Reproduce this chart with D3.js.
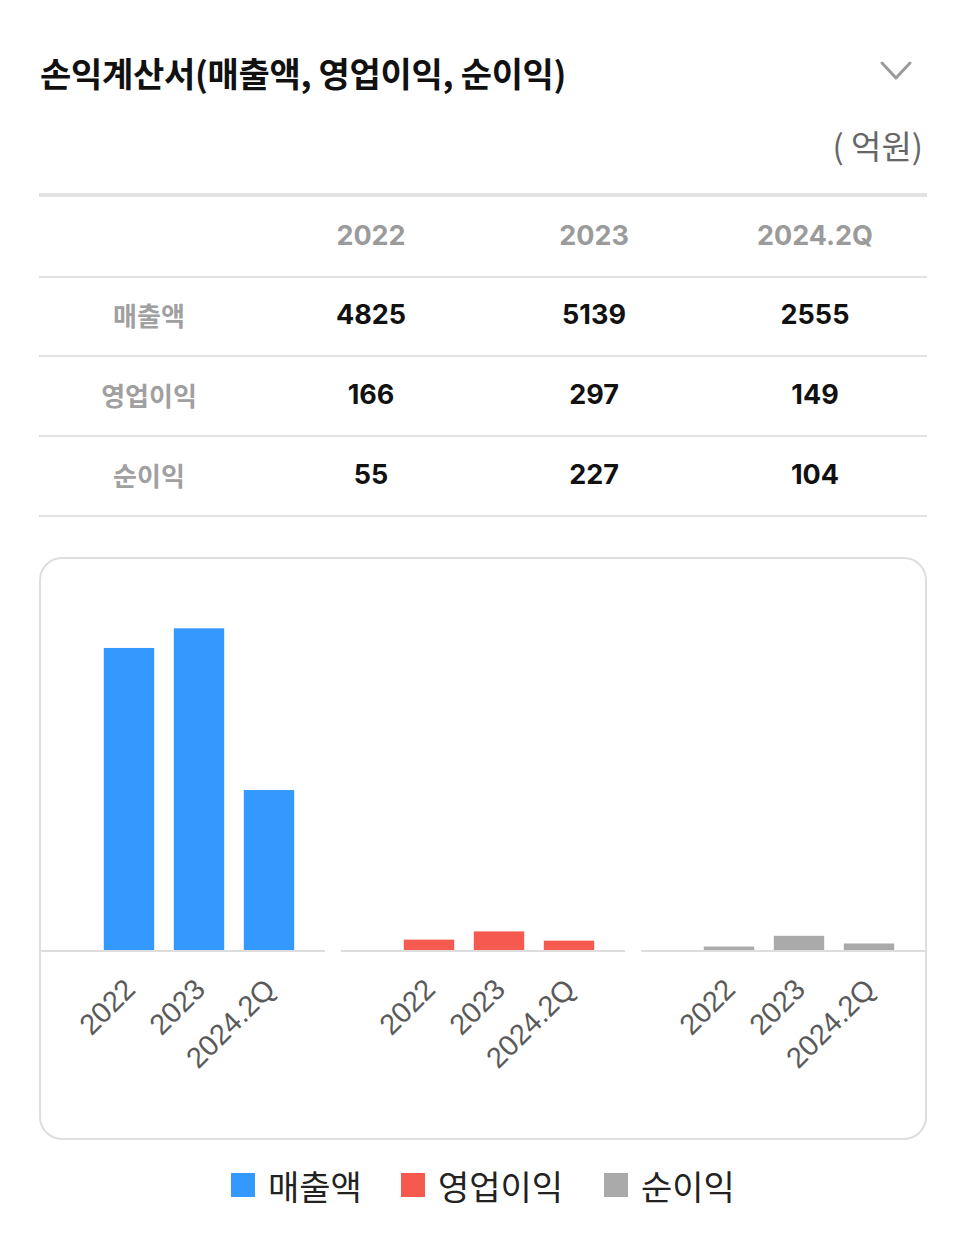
<!DOCTYPE html>
<html>
<head>
<meta charset="utf-8">
<script src="https://cdn.jsdelivr.net/npm/d3@7"></script>
<style>
  html, body { margin: 0; padding: 0; background: #fff; }
  svg { display: block; }
</style>
</head>
<body>
<svg id="chart" width="966" height="1233"></svg>
<script>
// ---- data ----
const title = "손익계산서(매출액, 영업이익, 순이익)";
const unitLabel = "( 억원)";
const categories = ["2022", "2023", "2024.2Q"];
const seriesNames = ["매출액", "영업이익", "순이익"];
const revenue = [4825, 5139, 2555];
const operatingIncome = [166, 297, 149];
const netIncome = [55, 227, 104];
const seriesColors = ["#3399ff", "#f65a4f", "#aaaaaa"];
const allSeries = [revenue, operatingIncome, netIncome];

const KR = "'Noto Sans CJK KR', 'Noto Sans', sans-serif";
const NUM = "Inter, 'Noto Sans CJK KR', sans-serif";
const svg = d3.select("#chart");
svg.append("rect").attr("width", 966).attr("height", 1233).attr("fill", "#fff");

// ---- header ----
svg.append("text").attr("x", 40).attr("y", 72)
  .attr("dominant-baseline", "central")
  .attr("font-family", KR).attr("font-weight", 700).attr("font-size", 34)
  .attr("fill", "#111").attr("letter-spacing", -0.3).text(title);

svg.append("path").attr("d", d3.line()([[882, 63], [896, 78], [910, 63]]))
  .attr("fill", "none").attr("stroke", "#9a9a9a").attr("stroke-width", 3)
  .attr("stroke-linecap", "round").attr("stroke-linejoin", "round");

svg.append("text").attr("x", 923).attr("y", 145)
  .attr("dominant-baseline", "central").attr("text-anchor", "end")
  .attr("font-family", KR).attr("font-size", 33).attr("fill", "#666").text(unitLabel);

// ---- table ----
const colCenters = { label: 149, "2022": 371, "2023": 594, "2024.2Q": 815 };
const rowY = d3.scalePoint().domain(["head"].concat(seriesNames)).range([235, 474]);

svg.append("line").attr("x1", 39).attr("x2", 927).attr("y1", 195).attr("y2", 195)
  .attr("stroke", "#e2e2e2").attr("stroke-width", 4);
[277, 356, 436, 516].forEach(y => {
  svg.append("line").attr("x1", 39).attr("x2", 927).attr("y1", y).attr("y2", y)
    .attr("stroke", "#e2e2e2").attr("stroke-width", 2);
});

categories.forEach(c => {
  svg.append("text").attr("x", colCenters[c]).attr("y", rowY("head"))
    .attr("text-anchor", "middle").attr("dominant-baseline", "central")
    .attr("font-family", NUM).attr("font-weight", 700).attr("font-size", 27)
    .attr("fill", "#9b9b9b").text(c);
});
seriesNames.forEach((s, i) => {
  svg.append("text").attr("x", colCenters.label).attr("y", rowY(s))
    .attr("text-anchor", "middle").attr("dominant-baseline", "central")
    .attr("font-family", KR).attr("font-weight", 700).attr("font-size", 26)
    .attr("fill", "#a0a0a0").text(s);
  categories.forEach((c, j) => {
    svg.append("text").attr("x", colCenters[c]).attr("y", rowY(s))
      .attr("text-anchor", "middle").attr("dominant-baseline", "central")
      .attr("font-family", NUM).attr("font-weight", 700).attr("font-size", 27)
      .attr("fill", "#111").text(allSeries[i][j]);
  });
});

// ---- chart panel ----
svg.append("rect").attr("x", 40).attr("y", 558).attr("width", 886).attr("height", 581)
  .attr("rx", 22).attr("ry", 22).attr("fill", "#fff")
  .attr("stroke", "#dedede").attr("stroke-width", 2);

const baseY = 950;
const y = d3.scaleLinear().domain([0, 6000]).range([baseY, baseY - 6000 * 0.0626]);
const panelX = d3.scaleBand().domain(seriesNames).range([41, 941]).paddingInner(0);

seriesNames.forEach((s, i) => {
  const px = panelX(s);
  const x = d3.scaleBand().domain(categories).range([px + 53, px + 263]).paddingInner(0.28).paddingOuter(0.14);
  const g = svg.append("g");
  g.selectAll("rect").data(categories).join("rect")
    .attr("x", d => x(d)).attr("width", x.bandwidth())
    .attr("y", (d, j) => y(allSeries[i][j]))
    .attr("height", (d, j) => baseY - y(allSeries[i][j]))
    .attr("fill", seriesColors[i]);
  const axis = d3.axisBottom(x).tickSize(0).tickPadding(0);
  const ag = svg.append("g").attr("transform", `translate(0,${baseY + 1})`).call(axis);
  ag.select(".domain").attr("d", `M${px},0H${Math.min(px + 284, 925)}`)
    .attr("stroke", "#dddddd").attr("stroke-width", 2);
  ag.selectAll(".tick text")
    .attr("font-family", "'Liberation Sans', Arial, sans-serif")
    .attr("font-size", 29).attr("fill", "#5a5a5a")
    .attr("text-anchor", "end").attr("dy", 0).attr("y", 0)
    .attr("transform", "translate(8,40) rotate(-45)");
});

// ---- legend ----
const legendX = [231, 401, 604];
seriesNames.forEach((s, i) => {
  svg.append("rect").attr("x", legendX[i]).attr("y", 1173).attr("width", 24).attr("height", 24)
    .attr("fill", seriesColors[i]);
  svg.append("text").attr("x", legendX[i] + 37).attr("y", 1185)
    .attr("dominant-baseline", "central")
    .attr("font-family", KR).attr("font-size", 34).attr("fill", "#222").text(s);
});
</script>
</body>
</html>
